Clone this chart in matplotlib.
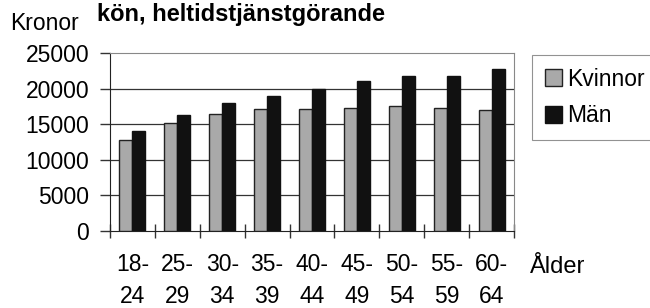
import matplotlib
matplotlib.use("Agg")
import matplotlib.pyplot as plt
import numpy as np

plt.rcParams['font.family'] = ['Liberation Sans', 'DejaVu Sans']

age_groups = ["18-\n24", "25-\n29", "30-\n34", "35-\n39", "40-\n44", "45-\n49", "50-\n54", "55-\n59", "60-\n64"]
kvinnor = [12800, 15100, 16500, 17100, 17100, 17300, 17600, 17300, 17000]
man = [14000, 16300, 18000, 19000, 20000, 21000, 21800, 21800, 22700]
yticks = [0, 5000, 10000, 15000, 20000, 25000]

FS = 16.5

fig = plt.figure(figsize=(6.5, 3.08), dpi=100)
ax = fig.add_axes([110/650, 1-231/308, 404/650, 178/308])

x = np.arange(len(age_groups))
w = 0.29
ax.bar(x - w/2, kvinnor, w, color='#a9a9a9', edgecolor='#222222', linewidth=1.0, label='Kvinnor', zorder=3)
ax.bar(x + w/2, man, w, color='#111111', edgecolor='#111111', linewidth=1.0, label='Män', zorder=3)

ax.set_xlim(-0.5, len(age_groups) - 0.5)
ax.set_ylim(0, 25000)
ax.set_yticks(yticks)
ax.set_yticklabels([str(v) for v in yticks], fontsize=FS)
ax.set_xticks(x)
ax.set_xticklabels(age_groups, fontsize=FS, linespacing=1.5)
ax.set_xticks(np.arange(-0.5, len(age_groups), 1), minor=True)
ax.tick_params(axis='x', which='major', length=0, pad=16)
ax.tick_params(axis='x', which='minor', length=10, direction='inout', width=1, color='#333333')
ax.tick_params(axis='y', length=7, direction='out', width=1, color='#333333', pad=8)

for v in yticks[1:-1]:
    ax.axhline(v, color='#333333', linewidth=0.9, zorder=1)

ax.spines['left'].set_color('#222222')
ax.spines['bottom'].set_color('#222222')
ax.spines['top'].set_color('#888888')
ax.spines['right'].set_color('#888888')
ax.spines['top'].set_linewidth(0.8)
ax.spines['right'].set_linewidth(0.8)

fig.text(10/650, 1-23/308, "Kronor", fontsize=FS, va='center', ha='left')
fig.text(97/650, 1-15/308, "kön, heltidstjänstgörande", fontsize=17, fontweight='bold', va='center', ha='left')
fig.text(530/650, 1-267/308, "Ålder", fontsize=17, va='center', ha='left')

leg = fig.legend(loc='upper left', bbox_to_anchor=(532/650, 1-55/308), fontsize=FS,
                 frameon=True, fancybox=False, edgecolor='#777777', handlelength=0.75,
                 handleheight=0.75, handletextpad=0.25, borderpad=0.55, labelspacing=0.6,
                 borderaxespad=0)
leg.get_frame().set_linewidth(0.8)

fig.savefig("out.png", dpi=100)
